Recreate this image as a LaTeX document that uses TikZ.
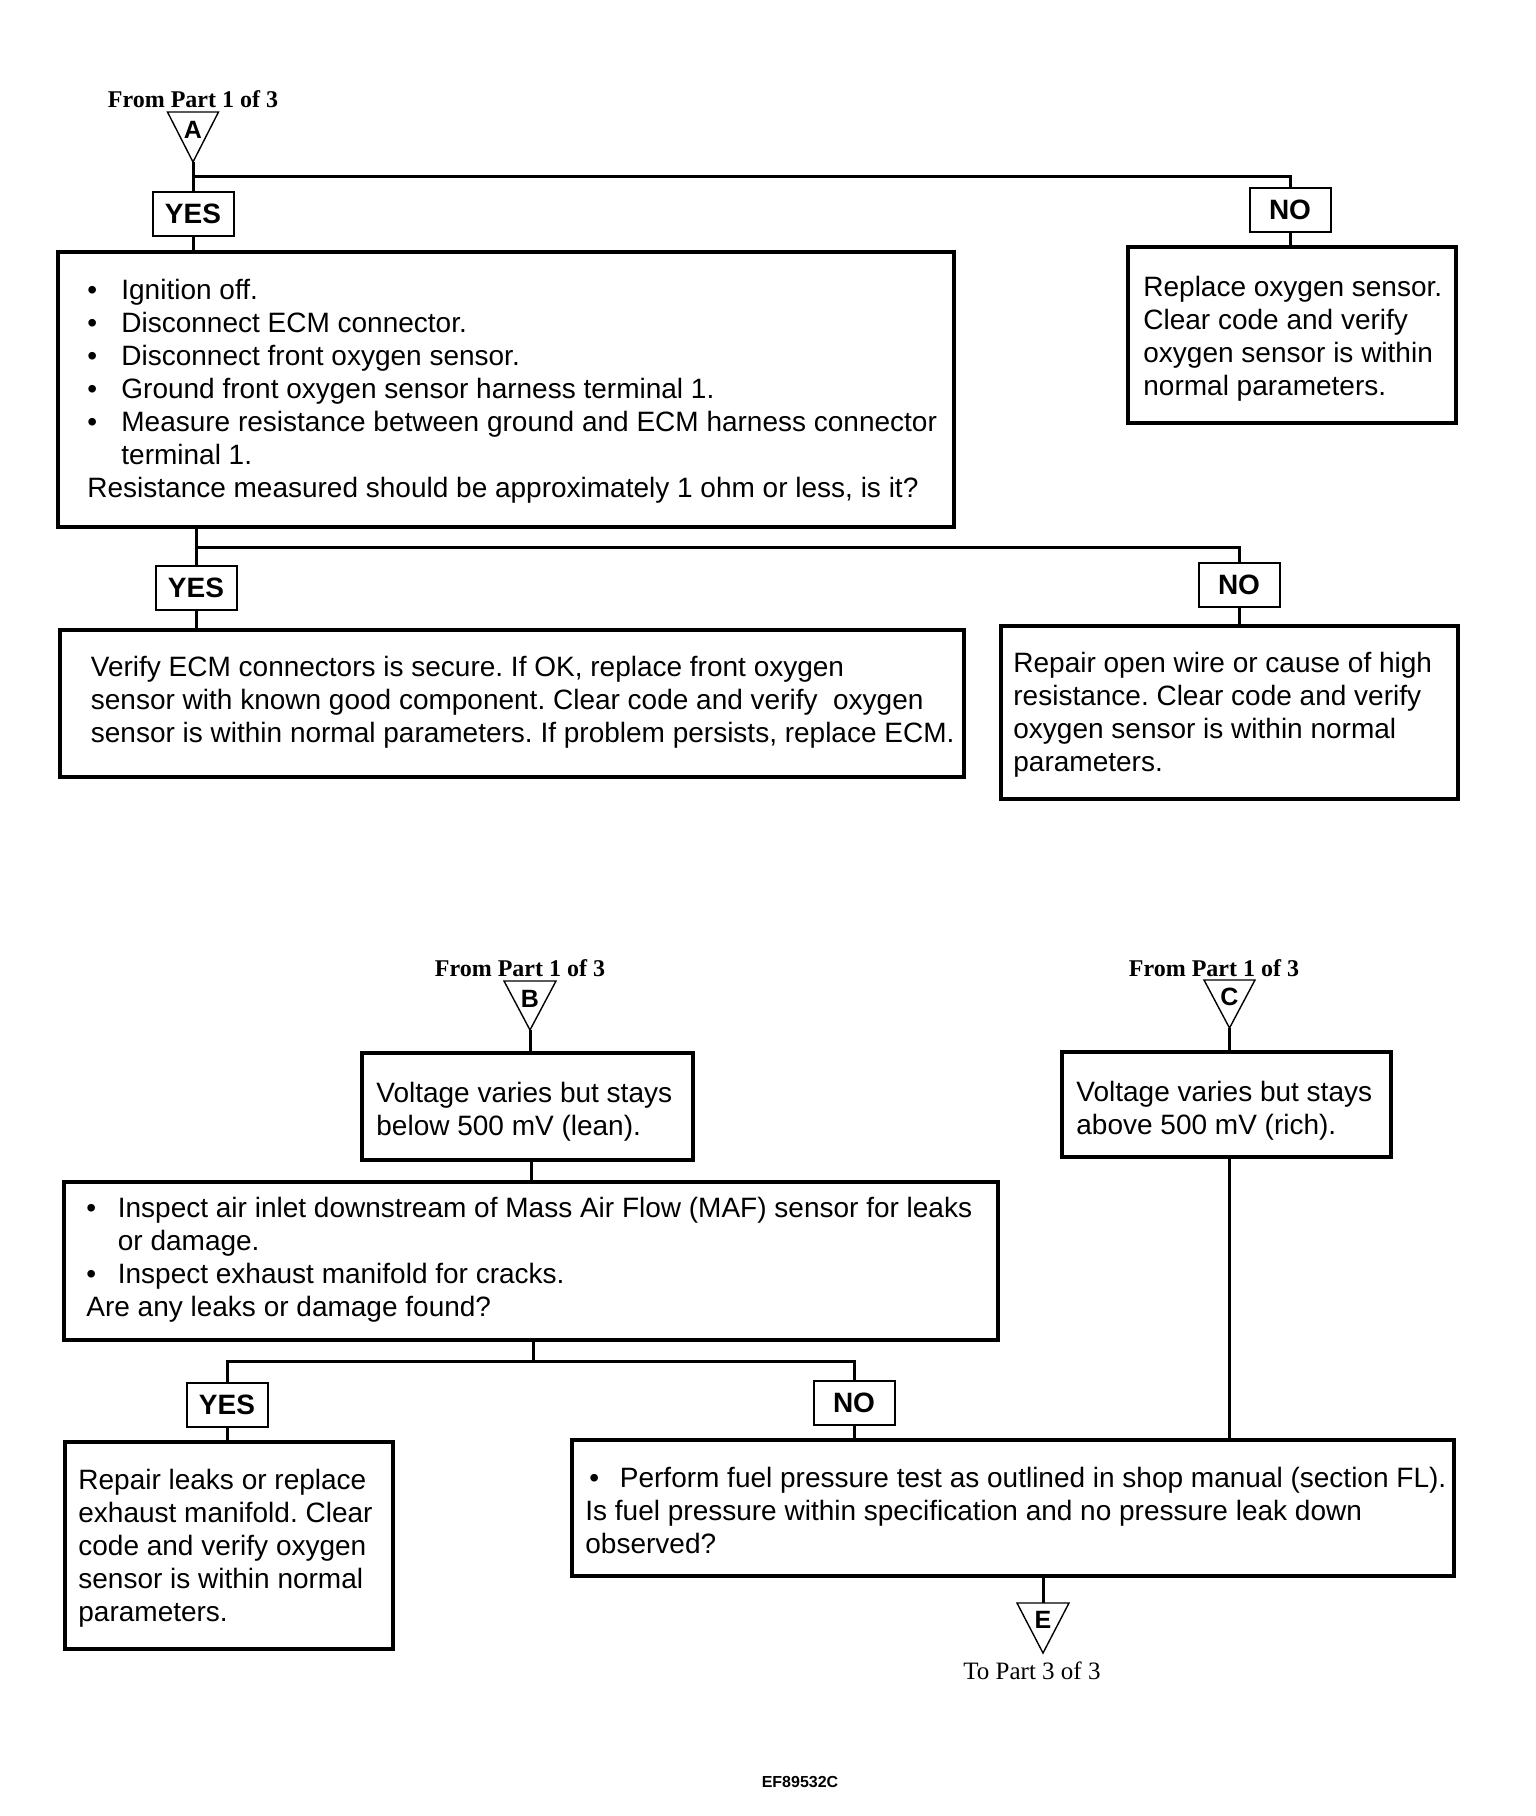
\documentclass[tikz,border=0pt]{standalone}
\usepackage{fontspec}
\setmainfont{Liberation Sans}
\newfontfamily\tmsfont{Liberation Serif}
\newcommand{\blt}[1][17pt]{\makebox[#1][l]{\textbullet}}
\frenchspacing
\begin{document}
\begin{tikzpicture}[x=0.5pt,y=-0.5pt,
  bx/.style={draw, line width=1.6pt, inner sep=0pt},
  lbl/.style={draw, line width=1pt, inner sep=0pt, minimum width=40.5pt, minimum height=22pt,
    font=\bfseries\fontsize{14}{16}\selectfont},
  txt/.style={anchor=north west, inner sep=0pt, align=left, font=\fontsize{14}{16.5}\selectfont},
  conn/.style={line width=1.5pt},
  tri/.style={line width=0.7pt},
  tlet/.style={anchor=base, inner sep=0pt, font=\bfseries\fontsize{12.5}{14}\selectfont},
  from/.style={anchor=base, inner sep=0pt, font=\tmsfont\bfseries\fontsize{12}{14}\selectfont},
  to/.style={anchor=base, inner sep=0pt, font=\tmsfont\fontsize{12.5}{14}\selectfont}]
\useasboundingbox (0,0) rectangle (1536,1816);

% ---------- Part A ----------
\node[from] (fromA) at (193,107) {From Part 1 of 3};
\draw[tri] (167.5,112) -- (218.5,112) -- (193,162) -- cycle;
\coordinate (tipA) at (193,162);
\node[tlet] (letA) at (193,138) {A};

\node[lbl] (yes1) at (193,214) {YES};
\node[lbl] (no1) at (1290,210) {NO};
\node[bx, minimum width=448pt, minimum height=137.5pt] (boxA) at (506,389.5) {};
\node[bx, minimum width=164pt, minimum height=88pt] (rep1) at (1292,335) {};

\node[txt] (tA) at (87,276) {\strut\blt Ignition off.\\
\blt Disconnect ECM connector.\\
\blt Disconnect front oxygen sensor.\\
\blt Ground front oxygen sensor harness terminal 1.\\
\blt Measure resistance between ground and ECM harness connector\\
\hspace*{17pt}terminal 1.\\
Resistance measured should be approximately 1 ohm or less, is it?};
\node[txt] (tR1) at (1143,273) {\strut Replace oxygen sensor.\\
Clear code and verify\\
oxygen sensor is within\\
normal parameters.};

\coordinate (jA) at (193,176);
\draw[conn] (tipA) -- (yes1.north);
\draw[conn] (yes1.south) -- (yes1.south |- boxA.north);
\draw[conn] (jA) -| (no1.north);
\draw[conn] (no1.south) -- (no1.south |- rep1.north);

% second level
\node[lbl] (yes2) at (196,587.5) {YES};
\node[lbl] (no2) at (1239,584.5) {NO};
\node[bx, minimum width=452pt, minimum height=73.5pt] (verify) at (512,703.5) {};
\node[bx, minimum width=228.5pt, minimum height=86.5pt] (repair) at (1229.5,712.5) {};

\node[txt] (tV) at (90.5,653) {\strut Verify ECM connectors is secure. If OK, replace front oxygen\\
sensor with known good component. Clear code and verify~ oxygen\\
sensor is within normal parameters. If problem persists, replace ECM.};
\node[txt] (tRp) at (1013,649) {\strut Repair open wire or cause of high\\
resistance. Clear code and verify\\
oxygen sensor is within normal\\
parameters.};

\coordinate (jB) at (196,547);
\draw[conn] (boxA.south -| yes2) -- (yes2.north);
\draw[conn] (jB) -| (no2.north);
\draw[conn] (yes2.south) -- (yes2.south |- verify.north);
\draw[conn] (no2.south) -- (no2.south |- repair.north);

% ---------- Part B ----------
\node[from] (fromB) at (520,976) {From Part 1 of 3};
\draw[tri] (504,981) -- (556,981) -- (530,1030) -- cycle;
\coordinate (tipB) at (530,1030);
\node[tlet] (letB) at (530,1007) {B};

\node[bx, minimum width=165.5pt, minimum height=53.5pt] (bbox) at (527.5,1106.5) {};
\node[txt] (tB) at (376,1079) {\strut Voltage varies but stays\\below 500 mV (lean).};

\node[bx, minimum width=467pt, minimum height=79pt] (inspect) at (531,1261) {};
\node[txt] (tI) at (86,1194) {\strut\blt[15.75pt]Inspect air inlet downstream of Mass Air Flow (MAF) sensor for leaks\\
\hspace*{15.75pt}or damage.\\
\blt[15.75pt]Inspect exhaust manifold for cracks.\\
Are any leaks or damage found?};

\draw[conn] (tipB) -- (tipB |- bbox.north);
\coordinate (cB) at (531,1100);
\draw[conn] (bbox.south -| cB) -- (cB |- inspect.north);

\node[lbl] (yes3) at (227,1405) {YES};
\node[lbl] (no3) at (854,1403) {NO};
\coordinate (jC) at (533,1361);
\draw[conn] (inspect.south -| jC) -- (jC);
\draw[conn] (yes3.north) |- (jC) -| (no3.north);

\node[bx, minimum width=164pt, minimum height=103.5pt] (leaks) at (229,1545.5) {};
\node[txt] (tL) at (78,1466) {\strut Repair leaks or replace\\
exhaust manifold. Clear\\
code and verify oxygen\\
sensor is within normal\\
parameters.};

\node[bx, minimum width=441pt, minimum height=68pt] (perform) at (1013,1508) {};
\node[txt] (tP) at (585,1464) {\strut\hspace*{2pt}\blt[15.25pt]Perform fuel pressure test as outlined in shop manual (section FL).\\
Is fuel pressure within specification and no pressure leak down\\
observed?};

\draw[conn] (yes3.south) -- (yes3.south |- leaks.north);
\draw[conn] (no3.south) -- (no3.south |- perform.north);

% ---------- Part C ----------
\node[from] (fromC) at (1214,976) {From Part 1 of 3};
\draw[tri] (1204,980) -- (1255,980) -- (1229.5,1028) -- cycle;
\coordinate (tipC) at (1229.5,1028);
\node[tlet] (letC) at (1229.5,1005) {C};

\node[bx, minimum width=164.5pt, minimum height=52.5pt] (cbox) at (1226.5,1104.5) {};
\node[txt] (tC) at (1076,1078) {\strut Voltage varies but stays\\above 500 mV (rich).};

\draw[conn] (tipC) -- (tipC |- cbox.north);
\draw[conn] (cbox.south -| tipC) -- (tipC |- perform.north);

% ---------- E ----------
\coordinate (topE) at (1043,1603);
\draw[tri] (1017,1603) -- (1069,1603) -- (1043,1653) -- cycle;
\node[tlet] (letE) at (1043,1628) {E};
\draw[conn] (perform.south -| topE) -- (topE);
\node[to] (toE) at (1032,1679) {To Part 3 of 3};

\node[anchor=base, inner sep=0pt, font=\bfseries\fontsize{8}{10}\selectfont] (code) at (800,1787) {EF89532C};
\end{tikzpicture}
\end{document}
